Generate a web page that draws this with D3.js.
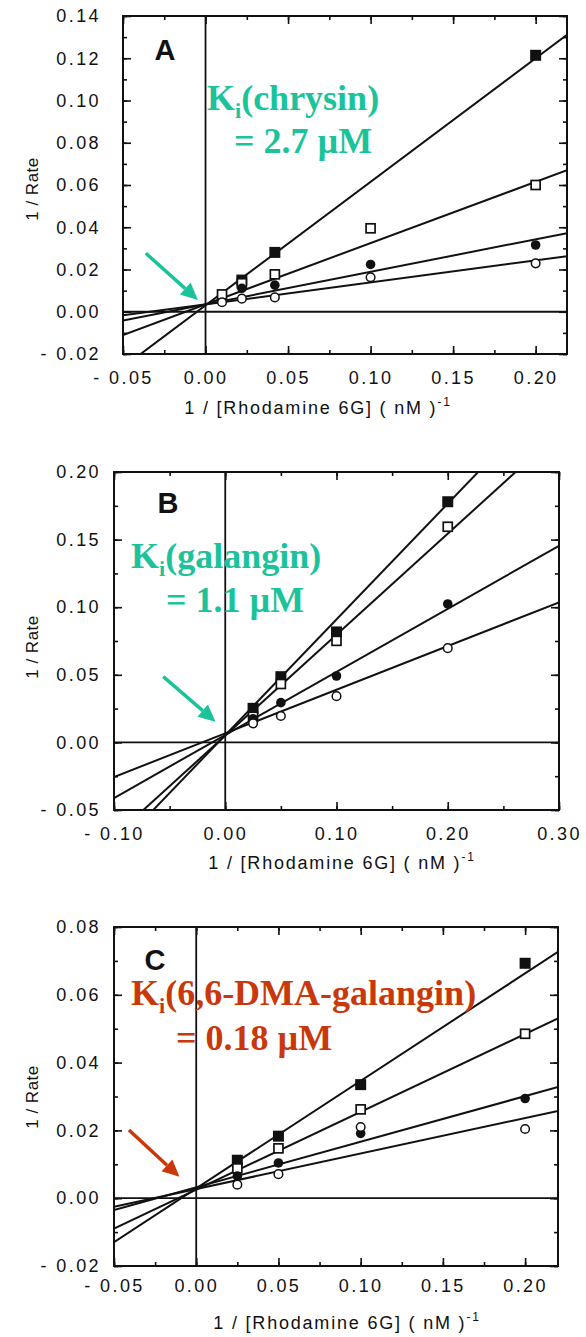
<!DOCTYPE html>
<html lang="en">
<head>
<meta charset="UTF-8">
<title>Lineweaver-Burk plots: chrysin, galangin, 6,6-DMA-galangin</title>
<script src="https://cdnjs.cloudflare.com/ajax/libs/d3/7.8.5/d3.min.js"></script>
<style>
  body { margin: 0; background: #fff; }
  .tick text { font: 18px "Liberation Sans", Arial, sans-serif; letter-spacing: 2.4px; fill: #111; }
  .axis-title { font: 18px "Liberation Sans", Arial, sans-serif; letter-spacing: 1.8px; fill: #111; }
  .y-title { font: 17px "Liberation Sans", Arial, sans-serif; letter-spacing: 0.5px; fill: #111; }
  .panel-letter { font: bold 29px "Liberation Sans", Arial, sans-serif; fill: #111; }
  .ki { font: bold 36px "Liberation Serif", "Times New Roman", serif; }
  .fit { fill: none; stroke: #111; stroke-width: 2px; }
  .zero { stroke: #111; stroke-width: 1.8px; }
  .frame { fill: none; stroke: #111; stroke-width: 2px; }
</style>
</head>
<body>
<svg width="586" height="1337"></svg>
<script>
// ---- Panel A: chrysin ----
const xA = [0.01, 0.022, 0.042, 0.1, 0.2];
const filledSqA = [null, 0.015, 0.0281, null, 0.1214];
const openSqA = [0.0082, 0.0135, 0.0177, 0.0395, 0.060];
const filledCircA = [null, 0.0111, 0.0126, 0.0224, 0.0316];
const openCircA = [0.0045, 0.0062, 0.0068, 0.0163, 0.0229];
const interceptA = [0.003, 0.0035, 0.0035, 0.0035];
const slopeA = [0.585, 0.29, 0.154, 0.104];
const xTicksA = [-0.05, 0, 0.05, 0.10, 0.15, 0.20];
const yTicksA = [-0.02, 0, 0.02, 0.04, 0.06, 0.08, 0.10, 0.12, 0.14];

// ---- Panel B: galangin ----
const xB = [0.025, 0.05, 0.1, 0.2];
const filledSqB = [0.0252, 0.0486, 0.0817, 0.178];
const openSqB = [0.019, 0.0432, 0.0751, 0.1595];
const filledCircB = [0.0175, 0.0294, 0.0491, 0.1024];
const openCircB = [0.0141, 0.0195, 0.0342, 0.0697];
const interceptB = [0.0054, 0.005, 0.0055, 0.0067];
const slopeB = [0.856, 0.747, 0.4665, 0.323];
const xTicksB = [-0.10, 0, 0.10, 0.20, 0.30];
const yTicksB = [-0.05, 0, 0.05, 0.10, 0.15, 0.20];

// ---- Panel C: 6,6-DMA-galangin ----
const xC = [0.025, 0.05, 0.1, 0.2];
const filledSqC = [0.0112, 0.0183, 0.0335, 0.0693];
const openSqC = [0.0088, 0.0147, 0.0262, 0.0485];
const filledCircC = [0.0065, 0.0104, 0.0191, 0.0294];
const openCircC = [0.004, 0.0071, 0.021, 0.0204];
const interceptC = [0.0029, 0.0025, 0.0032, 0.0027];
const slopeC = [0.3172, 0.2296, 0.1345, 0.1048];
const xTicksC = [-0.05, 0, 0.05, 0.10, 0.15, 0.20];
const yTicksC = [-0.02, 0, 0.02, 0.04, 0.06, 0.08];

const GREEN = "#1cc39a";
const RED = "#c9380b";

const panels = [
  { id: "A", box: { left: 123, right: 567, top: 16, bottom: 354 },
    xDomain: [-0.05, 0.219], yDomain: [-0.02, 0.14],
    xTicks: xTicksA, yTicks: yTicksA, xMinor: 0.025, yMinor: 0.01,
    x: xA, series: [filledSqA, openSqA, filledCircA, openCircA],
    intercept: interceptA, slope: slopeA,
    xLabelGap: 17, titleX: 318, titleY: 414, yTitleY: 189, letter: [165, 60],
    ki: { name: "(chrysin)", value: "= 2.7 \u00b5M", color: GREEN, x1: 207, y1: 110, x2: 234, y2: 153 },
    arrow: { from: [-0.0362, 0.0277], to: [-0.0046, 0.0056] } },
  { id: "B", box: { left: 114, right: 559, top: 472, bottom: 810 },
    xDomain: [-0.10, 0.30], yDomain: [-0.05, 0.20],
    xTicks: xTicksB, yTicks: yTicksB, xMinor: 0.05, yMinor: 0.025,
    x: xB, series: [filledSqB, openSqB, filledCircB, openCircB],
    intercept: interceptB, slope: slopeB,
    xLabelGap: 17, titleX: 342, titleY: 869, yTitleY: 647, letter: [168, 513],
    ki: { name: "(galangin)", value: "= 1.1 \u00b5M", color: GREEN, x1: 131, y1: 568, x2: 166, y2: 612 },
    arrow: { from: [-0.0557, 0.0486], to: [-0.0087, 0.0153] } },
  { id: "C", box: { left: 114, right: 558, top: 927, bottom: 1266 },
    xDomain: [-0.05, 0.22], yDomain: [-0.02, 0.08],
    xTicks: xTicksC, yTicks: yTicksC, xMinor: 0.025, yMinor: 0.01,
    x: xC, series: [filledSqC, openSqC, filledCircC, openCircC],
    intercept: interceptC, slope: slopeC,
    xLabelGap: 13, titleX: 347, titleY: 1329, yTitleY: 1097, letter: [155, 970],
    ki: { name: "(6,6-DMA-galangin)", value: "= 0.18 \u00b5M", color: RED, x1: 131, y1: 1005, x2: 176, y2: 1050 },
    arrow: { from: [-0.0409, 0.0201], to: [-0.0102, 0.0063] } }
];

const svg = d3.select("svg");
const fmt = d => (d < 0 ? "- " : "") + Math.abs(d).toFixed(2);
const markerTypes = ["filledSquare", "openSquare", "filledCircle", "openCircle"];

// minor tick values between the domain ends
function minorTicks(domain, step) {
  const out = [];
  const n = Math.round((domain[1] - domain[0]) / step) + 1;
  for (let i = 0; i <= n; i++) {
    const v = +(Math.ceil(domain[0] / step - 1e-9) * step + i * step).toFixed(4);
    if (v >= domain[0] - 1e-9 && v <= domain[1] + 1e-9) out.push(v);
  }
  return out;
}

panels.forEach(p => {
  const b = p.box;
  const x = d3.scaleLinear().domain(p.xDomain).range([b.left, b.right]);
  const y = d3.scaleLinear().domain(p.yDomain).range([b.bottom, b.top]);
  const g = svg.append("g");

  const clipId = "clip" + p.id;
  svg.append("clipPath").attr("id", clipId)
    .append("rect").attr("x", b.left).attr("y", b.top)
    .attr("width", b.right - b.left).attr("height", b.bottom - b.top);

  // zero lines
  g.append("line").attr("class", "zero")
    .attr("x1", b.left).attr("x2", b.right).attr("y1", y(0)).attr("y2", y(0));
  g.append("line").attr("class", "zero")
    .attr("x1", x(0)).attr("x2", x(0)).attr("y1", b.top).attr("y2", b.bottom);

  // minor ticks, all four sides
  const xm = minorTicks(p.xDomain, p.xMinor);
  const ym = minorTicks(p.yDomain, p.yMinor);
  const noLabel = () => "";
  [[d3.axisBottom(x), "translate(0," + b.bottom + ")"],
   [d3.axisTop(x), "translate(0," + b.top + ")"]].forEach(([ax, tr]) => {
    g.append("g").attr("transform", tr)
      .call(ax.tickValues(xm).tickFormat(noLabel).tickSizeInner(-4).tickSizeOuter(0))
      .call(s => s.select(".domain").remove());
  });
  [[d3.axisLeft(y), "translate(" + b.left + ",0)"],
   [d3.axisRight(y), "translate(" + b.right + ",0)"]].forEach(([ax, tr]) => {
    g.append("g").attr("transform", tr)
      .call(ax.tickValues(ym).tickFormat(noLabel).tickSizeInner(-4).tickSizeOuter(0))
      .call(s => s.select(".domain").remove());
  });

  // major ticks with labels (bottom, left) and without (top, right)
  g.append("g").attr("transform", "translate(0," + b.bottom + ")")
    .call(d3.axisBottom(x).tickValues(p.xTicks).tickFormat(fmt)
      .tickSizeInner(-8).tickSizeOuter(0).tickPadding(p.xLabelGap))
    .call(s => s.select(".domain").remove());
  g.append("g").attr("transform", "translate(0," + b.top + ")")
    .call(d3.axisTop(x).tickValues(p.xTicks).tickFormat(noLabel)
      .tickSizeInner(-8).tickSizeOuter(0))
    .call(s => s.select(".domain").remove());
  g.append("g").attr("transform", "translate(" + b.left + ",0)")
    .call(d3.axisLeft(y).tickValues(p.yTicks).tickFormat(fmt)
      .tickSizeInner(-8).tickSizeOuter(0).tickPadding(b.left - 101))
    .call(s => s.select(".domain").remove());
  g.append("g").attr("transform", "translate(" + b.right + ",0)")
    .call(d3.axisRight(y).tickValues(p.yTicks).tickFormat(noLabel)
      .tickSizeInner(-8).tickSizeOuter(0))
    .call(s => s.select(".domain").remove());
  g.selectAll(".tick line").attr("stroke", "#111").attr("stroke-width", 1.6);

  // fitted lines
  const line = d3.line().x(d => x(d[0])).y(d => y(d[1]));
  p.intercept.forEach((a, i) => {
    const k = p.slope[i];
    g.append("path").attr("class", "fit").attr("clip-path", "url(#" + clipId + ")")
      .attr("d", line(p.xDomain.map(v => [v, a + k * v])));
  });

  // frame
  g.append("rect").attr("class", "frame")
    .attr("x", b.left).attr("y", b.top)
    .attr("width", b.right - b.left).attr("height", b.bottom - b.top);

  // data markers
  p.series.forEach((vals, si) => {
    const type = markerTypes[si];
    const pts = vals.map((v, i) => [p.x[i], v]).filter(d => d[1] != null);
    pts.forEach(d => {
      const cx = x(d[0]), cy = y(d[1]);
      if (type === "filledSquare") {
        g.append("rect").attr("x", cx - 5.5).attr("y", cy - 5.5).attr("width", 11).attr("height", 11)
          .attr("fill", "#111");
      } else if (type === "openSquare") {
        g.append("rect").attr("x", cx - 4.5).attr("y", cy - 4.5).attr("width", 9).attr("height", 9)
          .attr("fill", "#fff").attr("stroke", "#111").attr("stroke-width", 1.7);
      } else if (type === "filledCircle") {
        g.append("circle").attr("cx", cx).attr("cy", cy).attr("r", 4.8).attr("fill", "#111");
      } else {
        g.append("circle").attr("cx", cx).attr("cy", cy).attr("r", 4.3)
          .attr("fill", "#fff").attr("stroke", "#111").attr("stroke-width", 1.5);
      }
    });
  });

  // axis titles
  const t = g.append("text").attr("class", "axis-title")
    .attr("x", p.titleX).attr("y", p.titleY).attr("text-anchor", "middle");
  t.append("tspan").text("1 / [Rhodamine 6G]  ( nM )");
  t.append("tspan").attr("dy", -8).attr("font-size", 12).text("-1");
  g.append("text").attr("class", "y-title")
    .attr("transform", "translate(38," + p.yTitleY + ") rotate(-90)")
    .attr("text-anchor", "middle").text("1 / Rate");

  // panel letter
  g.append("text").attr("class", "panel-letter")
    .attr("x", p.letter[0]).attr("y", p.letter[1]).attr("text-anchor", "middle").text(p.id);

  // Ki annotation
  const k1 = g.append("text").attr("class", "ki").attr("fill", p.ki.color)
    .attr("x", p.ki.x1).attr("y", p.ki.y1);
  k1.append("tspan").text("K");
  k1.append("tspan").attr("dy", 8).attr("font-size", 22).text("i");
  k1.append("tspan").attr("dy", -8).text(p.ki.name);
  g.append("text").attr("class", "ki").attr("fill", p.ki.color)
    .attr("x", p.ki.x2).attr("y", p.ki.y2).text(p.ki.value);

  // arrow
  const x0 = x(p.arrow.from[0]), y0 = y(p.arrow.from[1]);
  const x1 = x(p.arrow.to[0]), y1 = y(p.arrow.to[1]);
  const ang = Math.atan2(y1 - y0, x1 - x0);
  const head = 17, half = 8;
  const bx = x1 - head * Math.cos(ang), by = y1 - head * Math.sin(ang);
  g.append("line").attr("x1", x0).attr("y1", y0).attr("x2", bx).attr("y2", by)
    .attr("stroke", p.ki.color).attr("stroke-width", 3.5);
  g.append("path").attr("fill", p.ki.color)
    .attr("d", d3.line()([
      [x1, y1],
      [bx + half * Math.sin(ang), by - half * Math.cos(ang)],
      [bx - half * Math.sin(ang), by + half * Math.cos(ang)]
    ]) + "Z");
});
</script>
</body>
</html>
